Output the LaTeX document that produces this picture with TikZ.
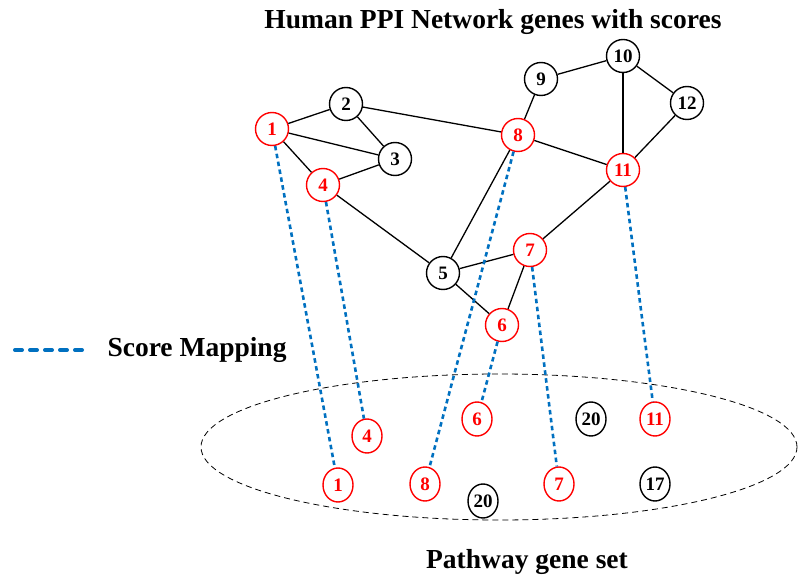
\documentclass[tikz,border=0pt]{standalone}
\usepackage{fontspec}
\setmainfont{Liberation Serif}
\usetikzlibrary{shapes.geometric}
\definecolor{mapblue}{RGB}{0,112,192}
\begin{document}
\begin{tikzpicture}[x=1pt,y=-1pt,
  gene/.style={circle,draw,line width=1.4pt,minimum size=33pt,inner sep=0pt,font=\fontsize{19}{19}\selectfont\bfseries},
  hit/.style={gene,draw=red,text=red},
  pgene/.style={ellipse,draw,line width=1.4pt,minimum width=30pt,minimum height=34pt,inner sep=0pt,font=\fontsize{19}{19}\selectfont\bfseries},
  phit/.style={pgene,draw=red,text=red},
  edge/.style={line width=1.3pt},
  map/.style={draw=mapblue,line width=2.6pt,dash pattern=on 4.5pt off 3.5pt},
  lbl/.style={font=\fontsize{27.5}{27.5}\selectfont\bfseries}]
\useasboundingbox (0,0) rectangle (798,577);
% top network
\node[hit]  (n1) at (272,129) {1};
\node[gene] (n2) at (346,104) {2};
\node[gene] (n3) at (395,159) {3};
\node[hit]  (n4) at (323,185) {4};
\node[gene] (n5) at (443,273) {5};
\node[hit]  (n6) at (502,325) {6};
\node[hit]  (n7) at (530,250) {7};
\node[hit]  (n8) at (518,135) {8};
\node[gene] (n9) at (541,79) {9};
\node[gene] (n10) at (623,56) {10};
\node[hit]  (n11) at (623,170) {11};
\node[gene] (n12) at (687,103) {12};
\foreach \a/\b in {n1/n2,n1/n3,n1/n4,n2/n3,n2/n8,n4/n3,n4/n5,n5/n7,n5/n6,n6/n7,n5/n8,n8/n9,n9/n10,n10/n11,n10/n12,n12/n11,n8/n11,n11/n7}
  \draw[edge] (\a) -- (\b);
% pathway set
\draw[line width=0.8pt,dash pattern=on 6pt off 4pt] (499,447) ellipse [x radius=298pt,y radius=73pt];
\node[phit]  (p4) at (367,436) {4};
\node[phit]  (p6) at (477,419) {6};
\node[pgene] (p20a) at (591,419) {20};
\node[phit]  (p11) at (655,419) {11};
\node[phit]  (p1) at (338,485) {1};
\node[phit]  (p8) at (425,484) {8};
\node[pgene] (p20b) at (483,501) {20};
\node[phit]  (p7) at (559,484) {7};
\node[pgene] (p17) at (655,484) {17};
% score mappings
\foreach \a/\b in {n1/p1,n4/p4,n8/p8,n6/p6,n7/p7,n11/p11}
  \draw[map] (\a) -- (\b);
% legend
\coordinate (l1) at (15,350);
\coordinate (l2) at (86,350);
\draw[draw=mapblue,line width=4pt,line cap=round,dash pattern=on 7pt off 8pt] (l1) -- (l2);
\node[lbl,anchor=west] (leg) at (104,350) {Score Mapping};
% titles
\node[lbl] (title) at (493,22) {Human PPI Network genes with scores};
\node[lbl] (ptitle) at (527,562) {Pathway gene set};
\end{tikzpicture}
\end{document}
